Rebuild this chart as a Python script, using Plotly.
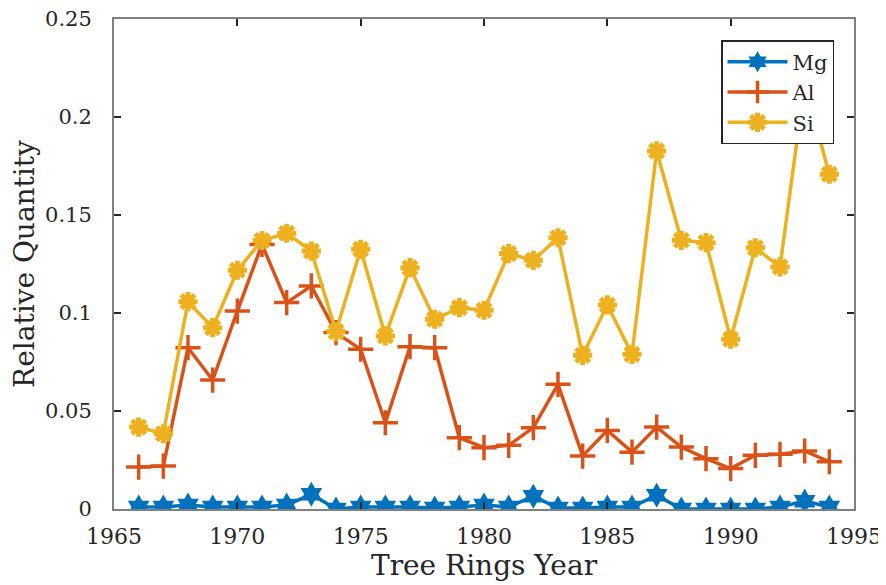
import plotly.graph_objects as go

years = list(range(1966, 1995))
mg = [0.001, 0.001, 0.002, 0.001, 0.001, 0.001, 0.002, 0.0075, 0.0, 0.001,
      0.001, 0.001, 0.0005, 0.001, 0.002, 0.001, 0.0065, 0.0005, 0.0005, 0.001,
      0.001, 0.007, 0.0, 0.0, 0.0, 0.0, 0.001, 0.004, 0.001]
al = [0.0214, 0.0219, 0.0823, 0.0658, 0.101, 0.135, 0.1053, 0.1138, 0.090, 0.0815,
      0.044, 0.0828, 0.0823, 0.0364, 0.0313, 0.0325, 0.0415, 0.0636, 0.027, 0.0401,
      0.029, 0.0418, 0.0316, 0.0257, 0.0206, 0.0274, 0.0279, 0.0296, 0.0241]
si = [0.0418, 0.0384, 0.1058, 0.0925, 0.1218, 0.137, 0.1407, 0.1316, 0.0905, 0.1325,
      0.0883, 0.1231, 0.0968, 0.1027, 0.1014, 0.1303, 0.1269, 0.1384, 0.0784, 0.1041,
      0.0789, 0.1827, 0.1371, 0.1359, 0.0866, 0.1333, 0.1235, 0.217, 0.1708]

names = ["Mg", "Al", "Si"]
colors = ["#0072BD", "#D95319", "#EDB120"]

FONT = "DejaVu Serif"
AX = "#808080"
TXT = "#262626"

fig = go.Figure()
fig.add_trace(go.Scatter(x=years, y=mg, name=names[0], mode="lines+markers",
                         line=dict(color=colors[0], width=3.5),
                         marker=dict(symbol="hexagram", size=19, color=colors[0],
                                     line=dict(width=0))))
fig.add_trace(go.Scatter(x=years, y=al, name=names[1], mode="lines+markers",
                         line=dict(color=colors[1], width=3.5),
                         marker=dict(symbol="cross-thin", size=18, color=colors[1],
                                     line=dict(width=3.5, color=colors[1]))))
fig.add_trace(go.Scatter(x=years, y=si, name=names[2], mode="lines+markers",
                         line=dict(color=colors[2], width=3.5),
                         marker=dict(symbol="asterisk-open", size=16, color=colors[2],
                                     line=dict(width=5, color=colors[2]))))

axis_common = dict(showline=True, linecolor=AX, linewidth=2, mirror="ticks",
                   ticks="inside", ticklen=7, tickwidth=1.5, tickcolor=TXT,
                   showgrid=False, zeroline=False, automargin=False,
                   ticklabeloverflow="allow")

fig.update_xaxes(range=[1965, 1995], dtick=5, tick0=1965, ticklabelstandoff=7,
                 tickfont=dict(family=FONT, size=22, color=TXT),
                 title=dict(text="Tree Rings Year", font=dict(family=FONT, size=28, color=TXT),
                            standoff=4),
                 **axis_common)
fig.update_yaxes(range=[0, 0.25], dtick=0.05, tick0=0, ticklabelstandoff=16,
                 tickfont=dict(family=FONT, size=21, color=TXT),
                 title=dict(text="Relative Quantity", font=dict(family=FONT, size=28, color=TXT),
                            standoff=3),
                 **axis_common)

# page body adds an 8px offset; size the figure so the plot area lands where the reference has it
fig.update_layout(
    width=878, height=577,
    margin=dict(l=106, r=32, t=11, b=76),
    paper_bgcolor="white", plot_bgcolor="white",
    font=dict(family=FONT, color=TXT),
    legend=dict(x=0.973, y=0.957, xanchor="right", yanchor="top",
                bgcolor="white", bordercolor="#262626", borderwidth=1.5,
                font=dict(family=FONT, size=21, color=TXT),
                itemwidth=60, tracegroupgap=0),
    showlegend=True,
)

fig.write_html("out.html")
